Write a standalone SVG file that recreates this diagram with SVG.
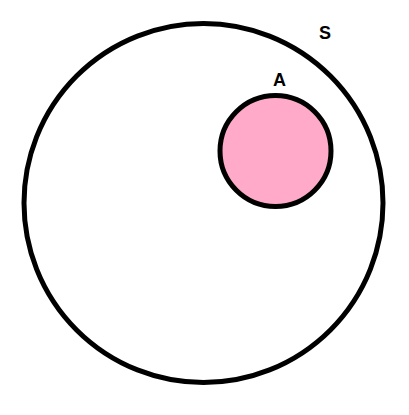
<svg xmlns="http://www.w3.org/2000/svg" width="409" height="415" viewBox="0 0 409 415">
<style>
.set{stroke:#000;stroke-width:5}
.lbl{font-family:"Liberation Sans",Arial,sans-serif;font-weight:bold;font-size:18px;fill:#000;text-anchor:middle}
</style>
<rect width="409" height="415" fill="#fff"/>
<g id="S">
<circle class="set" cx="203.5" cy="203" r="179.5" fill="#fff"/>
<text class="lbl" x="325" y="39">S</text>
</g>
<g id="A">
<circle class="set" cx="275.5" cy="151" r="55.5" fill="#FFAAC8"/>
<text class="lbl" x="279.5" y="86">A</text>
</g>
<g id="connectors"></g>
</svg>
